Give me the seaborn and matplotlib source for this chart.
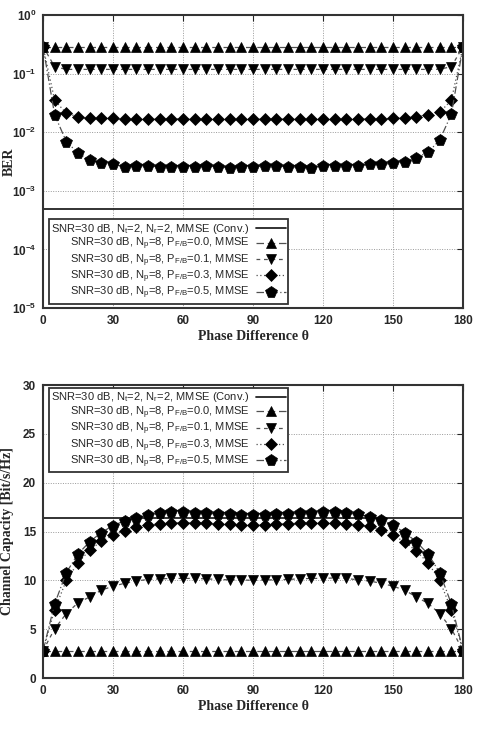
import matplotlib
matplotlib.use('Agg')
import matplotlib.pyplot as plt
import seaborn as sns
from matplotlib.ticker import NullLocator

# -----------------------------------------------------------
# Data
# -----------------------------------------------------------
theta = [0, 5, 10, 15, 20, 25, 30, 35, 40, 45, 50, 55, 60, 65, 70, 75, 80, 85, 90,
         95, 100, 105, 110, 115, 120, 125, 130, 135, 140, 145, 150, 155, 160, 165, 170, 175, 180]

# BER
ber_conv = 4.9e-4
ber_p00 = [0.29] * 37
ber_p01 = [0.29, 0.131, 0.118, 0.118, 0.118, 0.118, 0.118, 0.118, 0.118, 0.118, 0.118, 0.118,
           0.118, 0.118, 0.118, 0.118, 0.118, 0.118, 0.118, 0.118, 0.118, 0.118, 0.118, 0.118,
           0.118, 0.118, 0.118, 0.118, 0.118, 0.118, 0.118, 0.118, 0.118, 0.118, 0.119, 0.131, 0.29]
ber_p03 = [0.29, 0.035, 0.021, 0.0184, 0.0173, 0.0173, 0.0173, 0.0166, 0.0168, 0.0166, 0.0168,
           0.017, 0.0168, 0.0166, 0.0168, 0.0168, 0.017, 0.0168, 0.0168, 0.0168, 0.0168, 0.0166,
           0.0166, 0.0168, 0.0168, 0.0168, 0.0168, 0.017, 0.017, 0.0168, 0.0173, 0.0178, 0.0184,
           0.0197, 0.0219, 0.035, 0.29]
ber_p05 = [0.29, 0.0197, 0.0069, 0.0044, 0.00336, 0.00295, 0.00283, 0.00258, 0.00269, 0.00265,
           0.00258, 0.00251, 0.00258, 0.00251, 0.00265, 0.00258, 0.00248, 0.00258, 0.00258,
           0.00265, 0.00265, 0.00258, 0.00251, 0.00248, 0.00269, 0.00269, 0.00269, 0.00269,
           0.00283, 0.00283, 0.00294, 0.00314, 0.00367, 0.00454, 0.00736, 0.0202, 0.29]

# Channel capacity
cap_conv = 16.4
cap_p00 = [2.8] * 37
cap_p01 = [2.8, 5.05, 6.6, 7.7, 8.3, 9.0, 9.4, 9.7, 9.93, 10.1, 10.15, 10.2, 10.2, 10.2, 10.15,
           10.1, 10.05, 10.05, 10.0, 10.05, 10.05, 10.1, 10.15, 10.2, 10.2, 10.25, 10.2, 10.05,
           9.93, 9.7, 9.4, 9.0, 8.3, 7.65, 6.6, 5.05, 2.8]
cap_p03 = [2.8, 7.0, 10.0, 11.8, 13.1, 14.0, 14.6, 15.1, 15.5, 15.7, 15.8, 15.9, 15.9, 15.9,
           15.85, 15.8, 15.75, 15.7, 15.7, 15.7, 15.75, 15.8, 15.85, 15.9, 15.9, 15.9, 15.8,
           15.7, 15.55, 15.15, 14.6, 13.95, 13.0, 11.8, 10.0, 7.0, 2.8]
cap_p05 = [2.8, 7.6, 10.8, 12.7, 13.95, 14.9, 15.6, 16.1, 16.4, 16.7, 16.85, 16.95, 16.95, 16.9,
           16.85, 16.8, 16.75, 16.7, 16.7, 16.7, 16.75, 16.8, 16.85, 16.9, 16.95, 16.95, 16.9,
           16.75, 16.5, 16.2, 15.65, 14.9, 13.95, 12.7, 10.8, 7.6, 2.8]

labels = [r'SNR=30 dB, N$_t$=2, N$_r$=2, MMSE (Conv.)',
          r'SNR=30 dB, N$_p$=8, P$_{F/B}$=0.0, MMSE',
          r'SNR=30 dB, N$_p$=8, P$_{F/B}$=0.1, MMSE',
          r'SNR=30 dB, N$_p$=8, P$_{F/B}$=0.3, MMSE',
          r'SNR=30 dB, N$_p$=8, P$_{F/B}$=0.5, MMSE']
x_ticks = [0, 30, 60, 90, 120, 150, 180]
x_ticklabels = ['0', '30', '60', '90', '120', '150', '180']
ber_ticks = [1e-5, 1e-4, 1e-3, 1e-2, 1e-1, 1]
ber_ticklabels = [r'$\mathbf{10^{-5}}$', r'$\mathbf{10^{-4}}$', r'$\mathbf{10^{-3}}$',
                  r'$\mathbf{10^{-2}}$', r'$\mathbf{10^{-1}}$', r'$\mathbf{10^{0}}$']
cap_ticks = [0, 5, 10, 15, 20, 25, 30]
cap_ticklabels = ['0', '5', '10', '15', '20', '25', '30']

# -----------------------------------------------------------
# Style
# -----------------------------------------------------------
sns.set_theme(style='white')
plt.rcParams['font.family'] = ['Liberation Sans', 'DejaVu Sans']
plt.rcParams['mathtext.fontset'] = 'custom'
plt.rcParams['mathtext.rm'] = 'Liberation Sans'
plt.rcParams['mathtext.it'] = 'Liberation Sans'
plt.rcParams['mathtext.bf'] = 'Liberation Sans:bold'

line_col = '#505050'
styles = [
    dict(marker='^', markersize=7, linestyle=(0, (6, 3))),
    dict(marker='v', markersize=7, linestyle=(0, (3, 3))),
    dict(marker='D', markersize=6, linestyle=(0, (1, 2))),
    dict(marker='p', markersize=8.5, linestyle=(0, (6, 2, 1, 2))),
]

fig = plt.figure(figsize=(4.8, 7.39), dpi=100)
ax1 = fig.add_axes([0.0896, 0.5832, 0.875, 0.3965])
ax2 = fig.add_axes([0.0896, 0.0825, 0.875, 0.3965])


def draw_panel(ax, conv, series):
    ax.axhline(conv, color='#222222', lw=1.3, label=labels[0])
    for vals, st, lab in zip(series, styles, labels[1:]):
        sns.lineplot(x=theta, y=vals, ax=ax, color=line_col, lw=0.9,
                     marker=st['marker'], markersize=st['markersize'],
                     linestyle=st['linestyle'], markerfacecolor='black',
                     markeredgecolor='black', markeredgewidth=0.5, label=lab)
    ax.set_xlim(0, 180)
    ax.set_xticks(x_ticks, x_ticklabels, fontweight='bold', fontsize=8.5)
    ax.grid(True, color='#999999', linestyle=(0, (1, 1.5)), lw=0.7)
    ax.tick_params(direction='in', top=True, right=True, length=4, width=0.8, pad=5)
    for sp in ax.spines.values():
        sp.set_color('#333333')
        sp.set_linewidth(1.5)
    ax.set_xlabel('Phase Difference θ', family='Liberation Serif', fontweight='bold',
                  fontsize=10, labelpad=2)


def style_legend(ax, loc, anchor):
    leg = ax.legend(loc=loc, bbox_to_anchor=anchor, borderaxespad=0,
                    markerfirst=False, fontsize=8.0, handlelength=2.7, labelspacing=0.0,
                    handletextpad=0.5, borderpad=0.22, fancybox=False, framealpha=1)
    leg.get_frame().set_edgecolor('#333333')
    leg.get_frame().set_linewidth(1.3)
    return leg


# Top: BER
draw_panel(ax1, ber_conv, [ber_p00, ber_p01, ber_p03, ber_p05])
ax1.set_yscale('log')
ax1.set_ylim(1e-5, 1)
ax1.set_yticks(ber_ticks, ber_ticklabels, fontsize=8.5)
ax1.yaxis.set_minor_locator(NullLocator())
ax1.set_ylabel('BER', family='Liberation Serif', fontweight='bold', fontsize=10)
ax1.yaxis.set_label_coords(-0.064, 0.5)
style_legend(ax1, 'lower left', (0.014, 0.014))

# Bottom: Channel capacity
draw_panel(ax2, cap_conv, [cap_p00, cap_p01, cap_p03, cap_p05])
ax2.set_ylim(0, 30)
ax2.set_yticks(cap_ticks, cap_ticklabels, fontweight='bold', fontsize=8.5)
ax2.set_ylabel('Channel Capacity [Bit/s/Hz]', family='Liberation Serif', fontweight='bold',
               fontsize=10)
ax2.yaxis.set_label_coords(-0.07, 0.5)
style_legend(ax2, 'upper left', (0.014, 0.99))

fig.savefig('out.png', dpi=100)
